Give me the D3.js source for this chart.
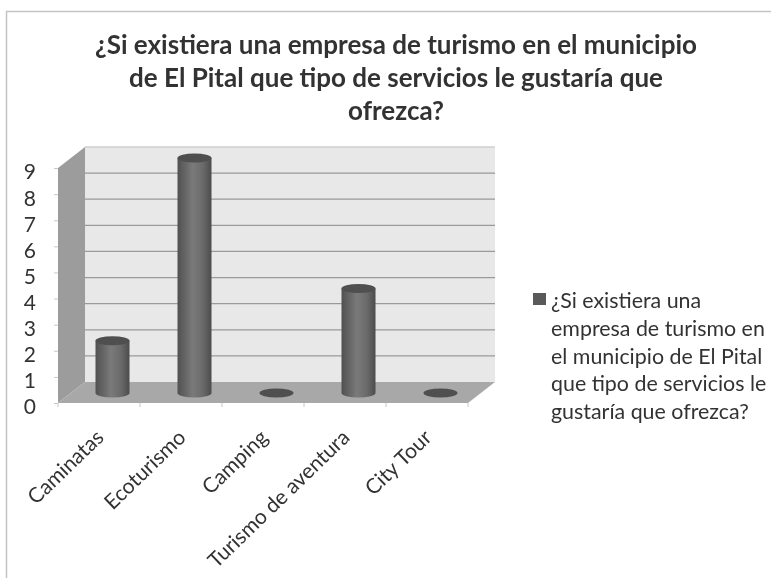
<!DOCTYPE html>
<html>
<head>
<meta charset="utf-8">
<script src="https://cdn.jsdelivr.net/npm/d3@7"></script>
<style>
  html, body { margin: 0; padding: 0; background: #fff; }
  text { font-family: Lato, "Noto Sans", sans-serif; fill: #333; }
</style>
</head>
<body>
<div id="container"></div>
<script>
// datos
const categories = ["Caminatas", "Ecoturismo", "Camping", "Turismo de aventura", "City Tour"];
const values = [2, 9, 0, 4, 0];
const yTicks = [0, 1, 2, 3, 4, 5, 6, 7, 8, 9];
const titleLines = [
  "¿Si existiera una empresa de turismo en el municipio",
  "de El Pital que tipo de servicios le gustaría que",
  "ofrezca?"
];
const legendLines = [
  "¿Si existiera una",
  "empresa de turismo en",
  "el municipio de El Pital",
  "que tipo de servicios le",
  "gustaría que ofrezca?"
];

const WIDTH = 771, HEIGHT = 578;

// caja frontal del grafico y desplazamiento de profundidad
const plot = { left: 58, right: 468, top: 168, bottom: 403 };
const depth = { x: 27, y: -21 };

const svg = d3.select("#container").append("svg")
  .attr("width", WIDTH).attr("height", HEIGHT)
  .style("display", "block");

const defs = svg.append("defs");
const cyl = defs.append("linearGradient").attr("id", "cyl");
[[0, "#505050"], [0.45, "#7a7a7a"], [0.75, "#6a6a6a"], [1, "#4c4c4c"]].forEach(([o, c]) =>
  cyl.append("stop").attr("offset", o).attr("stop-color", c));
defs.append("filter").attr("id", "soft")
  .append("feGaussianBlur").attr("stdDeviation", 0.7);

const root = svg.append("g").attr("filter", "url(#soft)");

// borde de la imagen
root.append("path")
  .attr("d", `M6.5,${HEIGHT} V11.5 H${WIDTH}`)
  .attr("fill", "none").attr("stroke", "#c4c4c4").attr("stroke-width", 1.5);

// escalas
const x = d3.scaleBand().domain(categories).range([plot.left, plot.right]);
const y = d3.scaleLinear().domain([0, 9]).range([plot.bottom, plot.top]);

const bx = plot.left + depth.x, bxr = plot.right + depth.x;
const by = (v) => y(v) + depth.y;

// pared del fondo, pared lateral y piso
root.append("path")
  .attr("d", `M${bx},${by(9)} H${bxr} V${by(0)} H${bx} Z`)
  .attr("fill", "#e8e8e8");
root.append("path")
  .attr("d", `M${plot.left},${y(9)} L${bx},${by(9)} V${by(0)} L${plot.left},${y(0)} Z`)
  .attr("fill", "#9c9c9c");
root.append("path")
  .attr("d", `M${plot.left},${y(0)} L${bx},${by(0)} H${bxr} L${plot.right},${y(0)} Z`)
  .attr("fill", "#a8a8a8");

// lineas de la cuadricula
root.append("g").selectAll("line")
  .data(yTicks.filter((d) => d > 0))
  .join("line")
  .attr("x1", bx).attr("x2", bxr)
  .attr("y1", (d) => by(d)).attr("y2", (d) => by(d))
  .attr("stroke", (d) => d === 9 ? "#cfcfcf" : "#9a9a9a")
  .attr("stroke-width", 1.3);

// eje Y
const yAxis = d3.axisLeft(y).tickValues(yTicks).tickSize(4).tickPadding(18).tickFormat(d3.format("d"));
const yG = root.append("g").attr("transform", `translate(${plot.left},0)`).call(yAxis);
yG.select(".domain").remove();
yG.selectAll("line").attr("stroke", "#c8c8c8");
yG.selectAll("text").attr("font-size", 21).attr("fill", "#444")
  .attr("dy", "0.52em");

// eje X
const xG = root.append("g").attr("transform", `translate(0,${plot.bottom})`);
xG.selectAll("line")
  .data(d3.range(categories.length + 1))
  .join("line")
  .attr("x1", (i) => plot.left + i * x.step()).attr("x2", (i) => plot.left + i * x.step())
  .attr("y1", 0).attr("y2", 4)
  .attr("stroke", "#c8c8c8");
xG.selectAll("text")
  .data(categories)
  .join("text")
  .attr("text-anchor", "end")
  .attr("font-size", 21)
  .attr("fill", "#444")
  .attr("transform", (d) => `translate(${x(d) + x.bandwidth() / 2 + 6},36) rotate(-44)`)
  .text((d) => d);

// cilindros
const rx = 17, ry = 4.5, lift = 10;
const cx = (d) => x(d) + x.bandwidth() / 2 + depth.x / 2;
const base = (v) => y(v) - lift;
const bars = root.append("g").selectAll("g")
  .data(categories.map((c, i) => ({ c, v: values[i] })))
  .join("g");
bars.filter((d) => d.v > 0).append("path")
  .attr("d", (d) => `M${cx(d.c) - rx},${base(d.v)} V${base(0)} A${rx},${ry} 0 0 0 ${cx(d.c) + rx},${base(0)} V${base(d.v)} Z`)
  .attr("fill", "url(#cyl)");
bars.append("ellipse")
  .attr("cx", (d) => cx(d.c)).attr("cy", (d) => base(d.v))
  .attr("rx", rx).attr("ry", ry)
  .attr("fill", "#505050");

// titulo
root.append("g").selectAll("text")
  .data(titleLines)
  .join("text")
  .attr("x", 396).attr("y", (d, i) => 54 + i * 33)
  .attr("text-anchor", "middle")
  .attr("font-size", 26).attr("font-weight", 700)
  .attr("fill", "#222")
  .text((d) => d);

// leyenda
root.append("rect")
  .attr("x", 533).attr("y", 293).attr("width", 13).attr("height", 12)
  .attr("fill", "#5a5a5a");
root.append("g").selectAll("text")
  .data(legendLines)
  .join("text")
  .attr("x", 551).attr("y", (d, i) => 308 + i * 27.8)
  .attr("font-size", 21.4).attr("fill", "#444")
  .text((d) => d);
</script>
</body>
</html>
